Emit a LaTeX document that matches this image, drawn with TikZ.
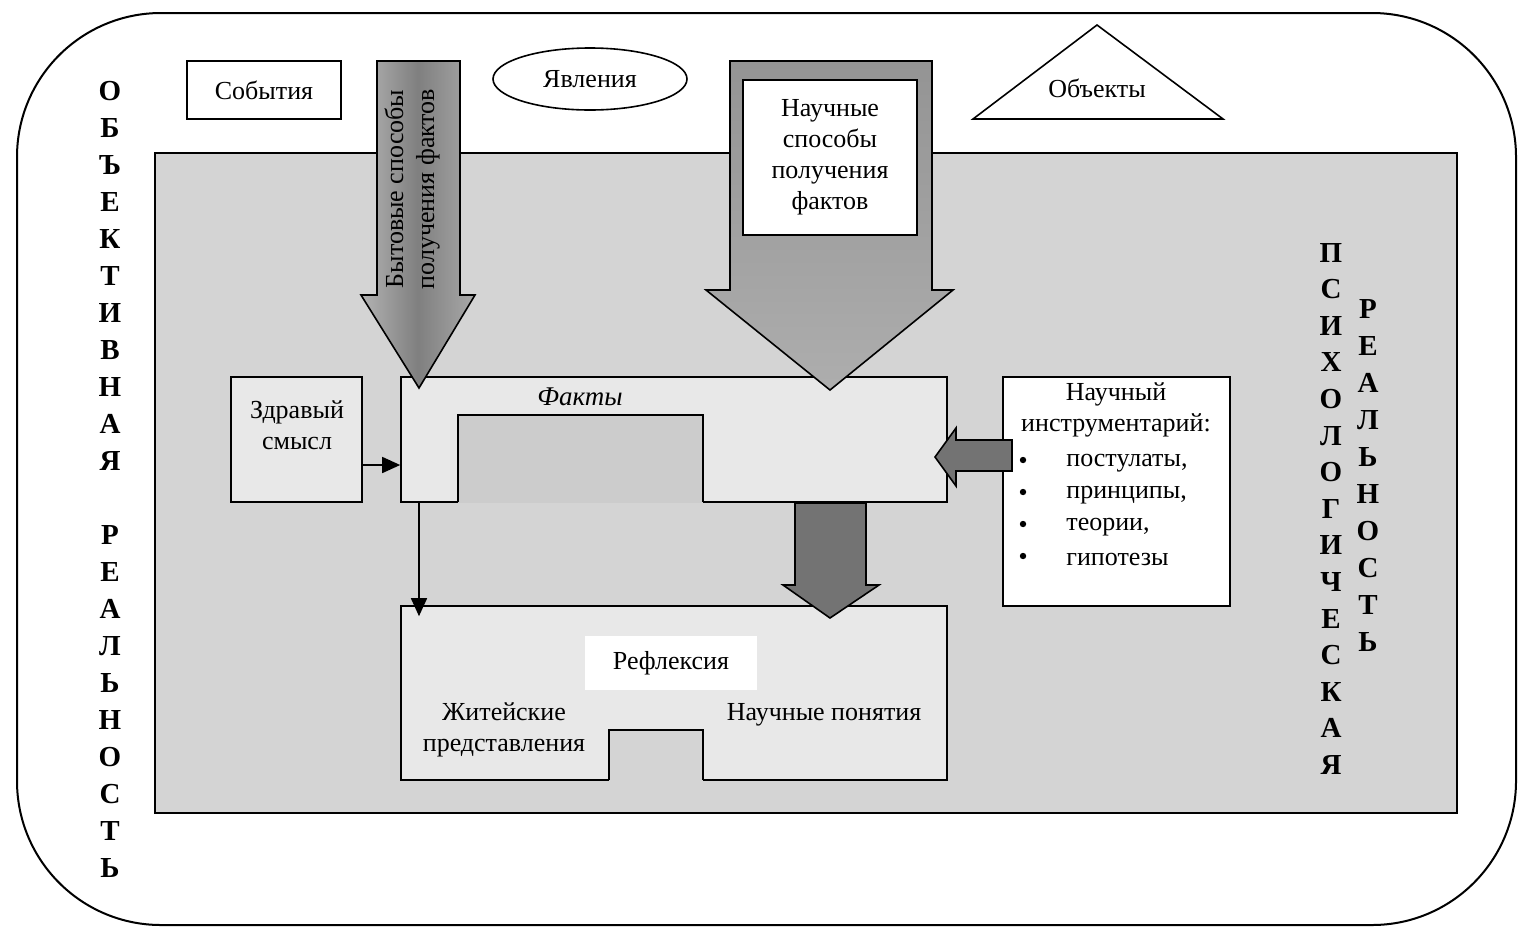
\documentclass[tikz,border=0pt]{standalone}
\usepackage{fontspec}
\setmainfont{Liberation Serif}
\usetikzlibrary{arrows.meta}
\usetikzlibrary{shapes.geometric}
\usetikzlibrary{positioning}

\begin{document}
\begin{tikzpicture}[x=0.5pt,y=-0.5pt]
	%\draw[help lines] (0,0) grid[step=100] (1518,927);
	
	\tikzstyle{box} = [draw,line width=0.8pt,inner sep=0pt]
	\tikzstyle{txt} = [font=\fontsize{13}{15.5}\selectfont,align=center,inner sep=0pt]
	\tikzstyle{vlet} = [font=\bfseries\fontsize{14.5}{14.5}\selectfont,anchor=base,inner sep=0pt]
	\tikzstyle{bnode} = [circle,fill=black,inner sep=0pt,minimum size=3.2pt]
	\tikzstyle{barrow} = [draw,line width=0.8pt,line join=miter]
	\tikzstyle{vedge} = [-{Triangle[length=9pt,width=8pt]},line width=0.8pt]
	
\useasboundingbox (0,0) rectangle (1518,927);
\draw[line width=1pt,rounded corners=72pt] (17,13) rectangle (1516,925);
\fill[black!17] (155,153) rectangle (1457,813);
\draw[line width=0.8pt] (155,153) rectangle (1457,813);

\node[box,txt,minimum width=77pt,minimum height=29pt] (sob) at (264,90) {События};
\node[box,txt,ellipse,minimum width=97pt,minimum height=31pt] (yav) at (590,79) {Явления};
\draw[line width=0.8pt] (973,119) -- (1223,119) -- (1097,25) -- cycle;
\node[txt] (obj) at (1097,88) {Объекты};

\node[box,fill=black!9,minimum width=273pt,minimum height=62.5pt] (fk) at (674,439.5) {};
\fill[black!20] (458,415) rectangle (703,503);
\draw[line width=0.8pt] (458,502) -- (458,415) -- (703,415) -- (703,502);
\node[txt,font=\fontsize{13.5}{15.5}\selectfont\itshape] (fkt) at (580,397) {Факты};

\node[box,fill=black!9,minimum width=273pt,minimum height=87pt] (rf) at (674,693) {};
\fill[black!17] (609,730) rectangle (703,782);
\draw[line width=0.8pt] (609,780) -- (609,730) -- (703,730) -- (703,780);
\node[txt,fill=white,minimum width=86pt,minimum height=27pt] (rft) at (671,663) {Рефлексия};
\node[txt] (zhit) at (504,730) {Житейские\\представления};
\node[txt] (npon) at (824,715) {Научные понятия};

\node[box,fill=black!9,minimum width=65.5pt,minimum height=62.5pt] (zs) at (296.5,439.5) {};
\node[txt] (zst) at (297,425) {Здравый\\смысл};

\node[box,fill=white,minimum width=113.5pt,minimum height=114.5pt] (ni) at (1116.5,491.5) {};
\node[txt] (nit) at (1116,410) {Научный\\инструментарий:};
\foreach \t [count=\i] in {{постулаты,},{принципы,},{теории,},{гипотезы}} {
	\node[bnode] (b\i) at (1023,428+32*\i) {};
	\node[txt,anchor=west] (it\i) at (1066,431+32*\i) {\t};
}

\coordinate (h1) at (0,465);
\coordinate (h2) at (419,0);
\draw[vedge] (zs.east |- h1) -- (fk.west |- h1);
\draw[vedge,shorten >=-5.5pt] (fk.south -| h2) -- (rf.north -| h2);

% block arrows
\draw[barrow,left color=black!30,right color=black!34,middle color=black!50] (377,61) -- (460,61) -- (460,295) -- (475,295) -- (419,388) -- (361,295) -- (377,295) -- cycle;
\node[txt,rotate=90] (byt) at (412,189) {Бытовые способы\\получения фактов};

\draw[barrow,top color=black!42,bottom color=black!32] (730,61) -- (932,61) -- (932,290) -- (953,290) -- (830,390) -- (706,290) -- (730,290) -- cycle;
\node[box,txt,fill=white,minimum width=87pt,minimum height=77.5pt] (nsp) at (830,157.5) {Научные\\способы\\получения\\фактов};

\draw[barrow,fill=black!55] (795,503) -- (866,503) -- (866,585) -- (879,585) -- (830,618) -- (783,585) -- (795,585) -- cycle;
\draw[barrow,fill=black!55] (1012,440) -- (956,440) -- (956,428) -- (935,457) -- (956,486) -- (956,471) -- (1012,471) -- cycle;

% vertical captions
\foreach \l [count=\i from 0] in {О,Б,Ъ,Е,К,Т,И,В,Н,А,Я,{},Р,Е,А,Л,Ь,Н,О,С,Т,Ь}
	\node[vlet] (o\i) at (110,100+37*\i) {\l};
\foreach \l [count=\i from 0] in {П,С,И,Х,О,Л,О,Г,И,Ч,Е,С,К,А,Я}
	\node[vlet] (p\i) at (1331,262+36.6*\i) {\l};
\foreach \l [count=\i from 0] in {Р,Е,А,Л,Ь,Н,О,С,Т,Ь}
	\node[vlet] (r\i) at (1368,318+37.1*\i) {\l};
\end{tikzpicture}
\end{document}
